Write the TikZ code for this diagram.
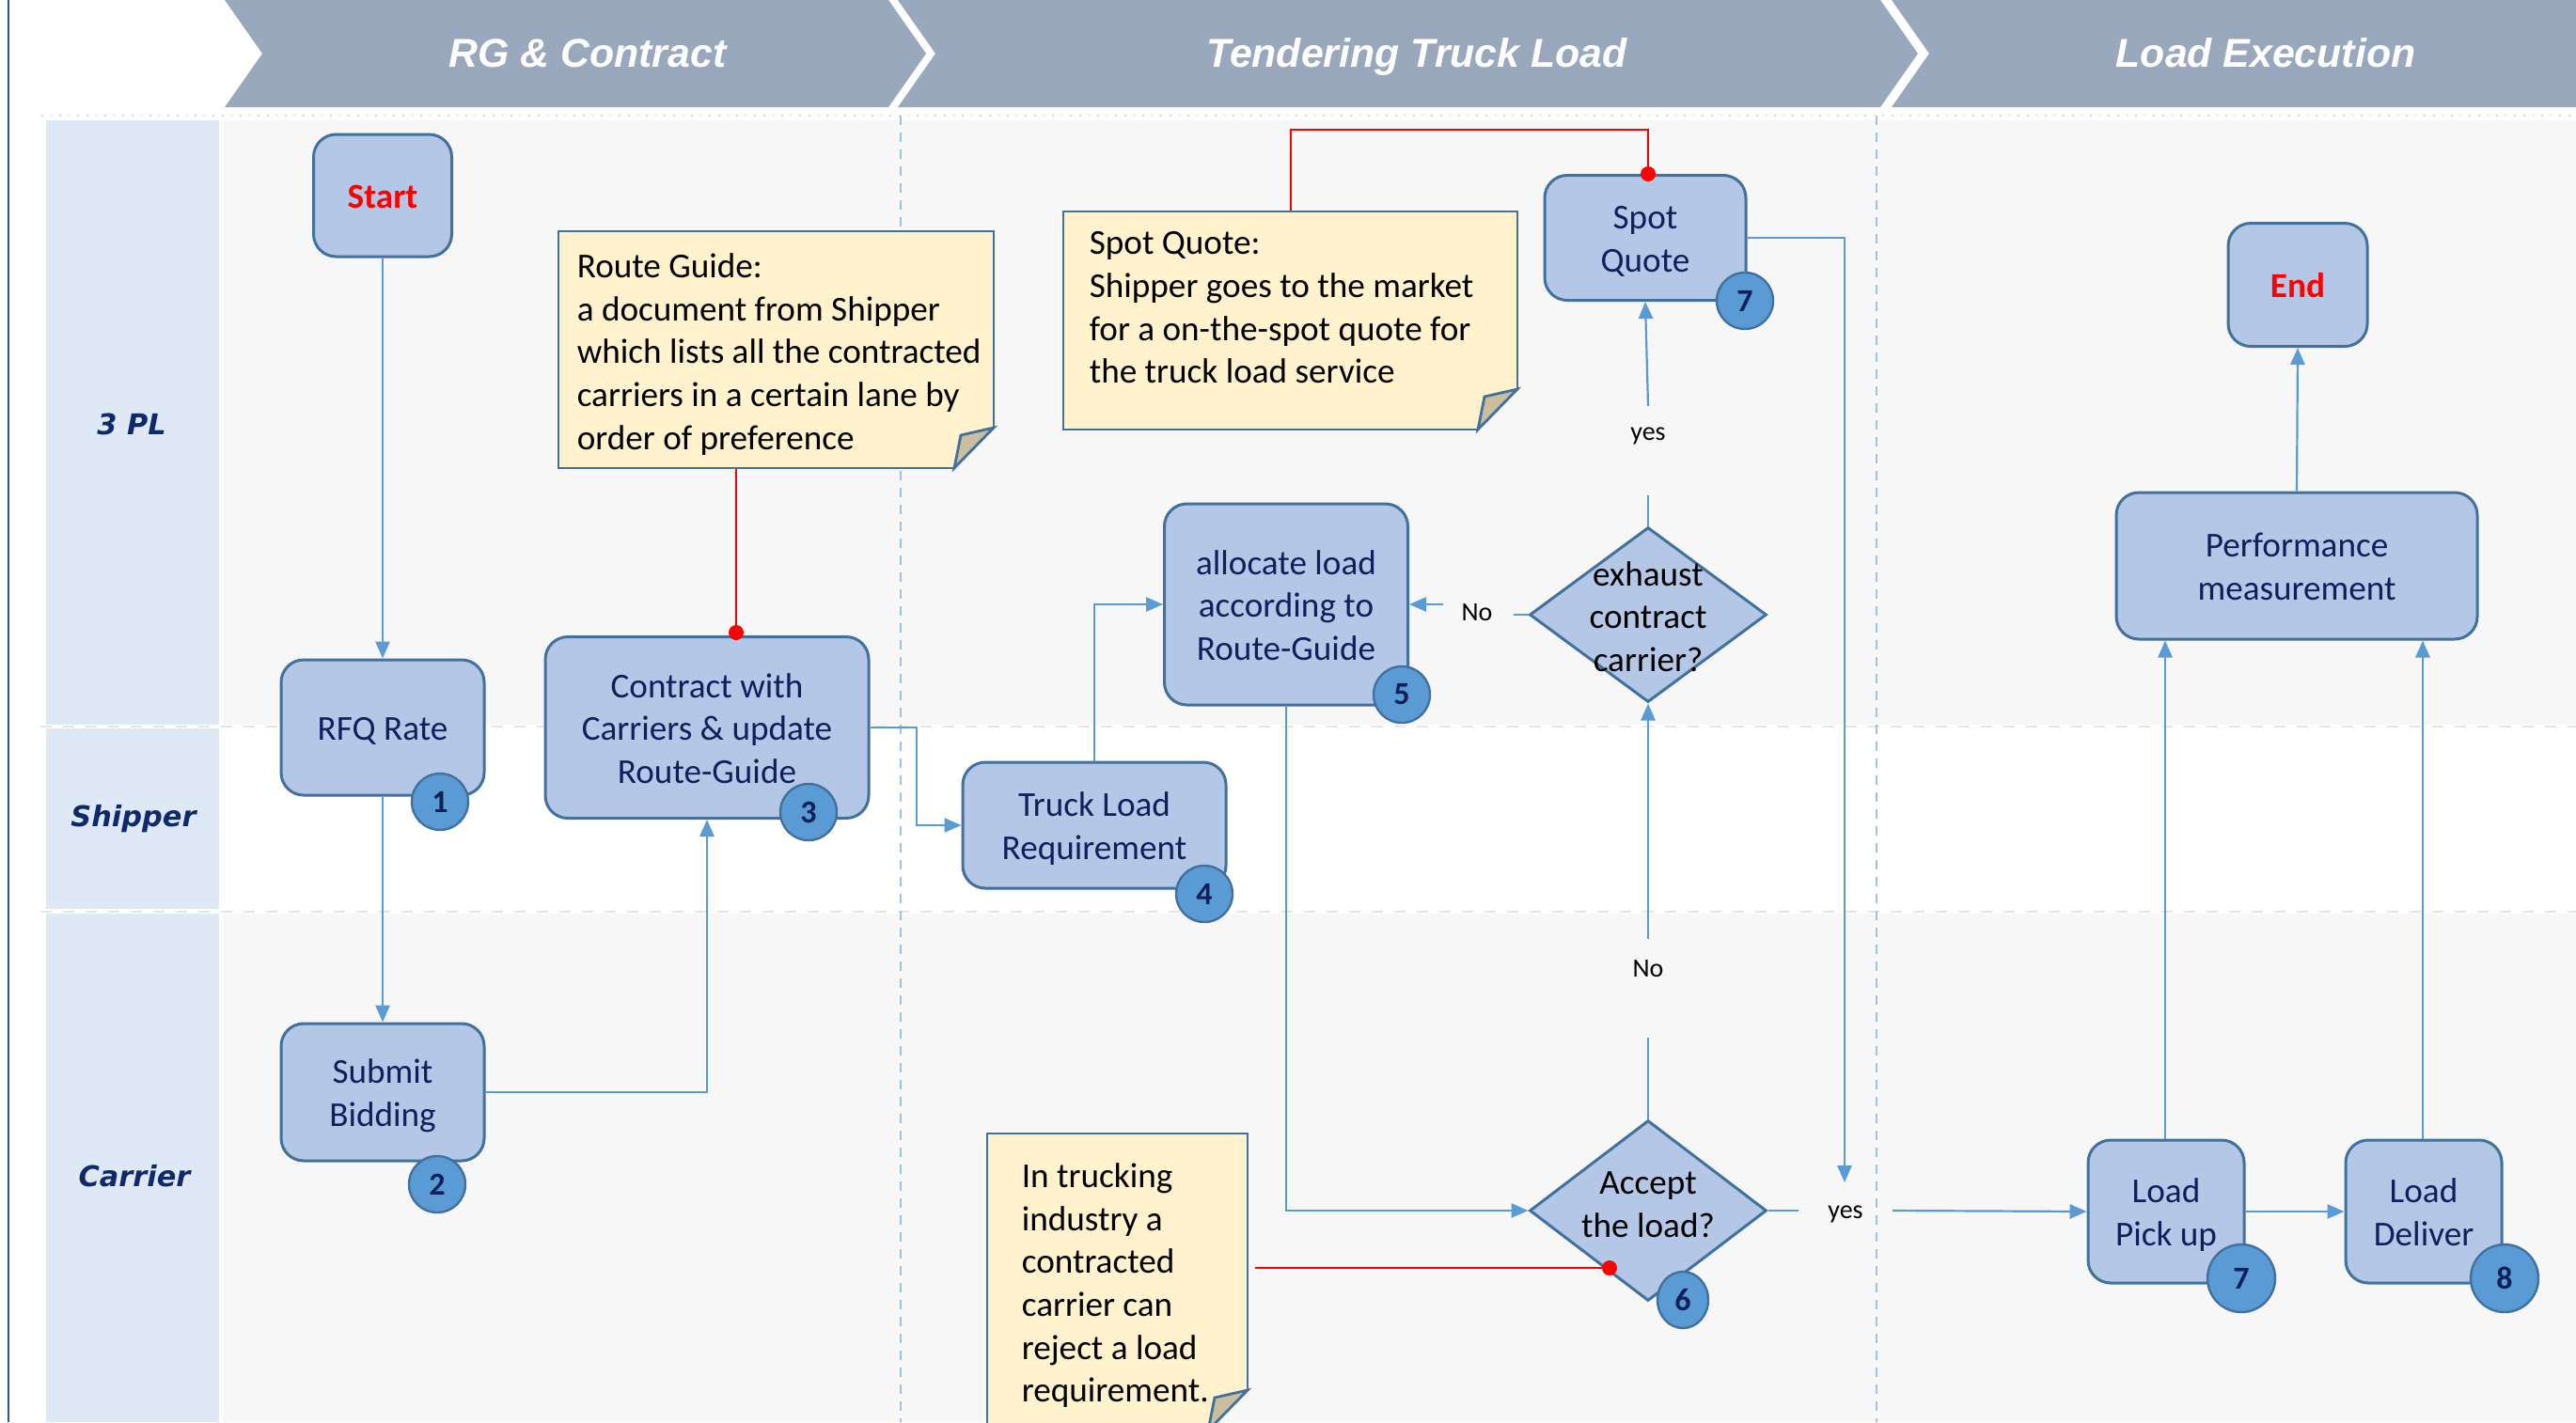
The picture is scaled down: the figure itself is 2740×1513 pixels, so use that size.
\documentclass[tikz,border=0pt]{standalone}
\usepackage{fontspec}
\setmainfont{Carlito}
\newfontfamily\hdrfont{Liberation Sans}
\newfontfamily\lanefont{DejaVu Sans}
\usetikzlibrary{shapes.geometric,arrows.meta,calc}
\definecolor{hdr}{HTML}{9AA8BE}
\definecolor{lanelab}{HTML}{DEE9F5}
\definecolor{lanebg}{HTML}{F7F7F7}
\definecolor{boxfill}{HTML}{B4C7E7}
\definecolor{boxline}{HTML}{41719C}
\definecolor{navy}{HTML}{10205A}
\definecolor{connc}{HTML}{5B9BD5}
\definecolor{badgefill}{HTML}{5B9BD5}
\definecolor{notefill}{HTML}{FFF2CC}
\definecolor{foldfill}{HTML}{CBBE9C}
\definecolor{phasec}{HTML}{9DC3E6}
\definecolor{leftblue}{HTML}{2F5597}
\definecolor{lanetxt}{HTML}{0F2A6B}
\newcommand\pxu{0.25pt}
\newcommand\boxfont{\fontsize{9.3}{11.4}\selectfont}
\newcommand\notefold[4]{%
  \fill[notefill] (#1,#2) -- (#3,#2) -- (#3,#4-43) -- (#3-42,#4) -- (#1,#4) -- cycle;
  \draw[boxline, line width=0.7pt, fill=foldfill] (#3,#4-43) -- (#3-35,#4-35) -- (#3-42,#4) -- cycle;
  \draw[boxline, line width=0.7pt] (#3-42,#4) -- (#1,#4) -- (#1,#2) -- (#3,#2) -- (#3,#4-43);
}
\begin{document}
\begin{tikzpicture}[x=0.25pt,y=-0.25pt,
  oneline/.style={text height=9.3pt, text depth=2.5pt},
  twoline/.style={text height=20.7pt, text depth=2.5pt},
  threeline/.style={text height=32.1pt, text depth=2.5pt},
  box/.style={draw=boxline, line width=0.75pt, fill=boxfill, rounded corners=6pt,
    text=navy, align=center, font=\boxfont, inner sep=0pt},
  dec/.style={diamond, draw=boxline, line width=0.75pt, fill=boxfill, inner sep=0pt},
  dtext/.style={align=center, font=\boxfont, text=black, inner sep=0pt},
  badge/.style={circle, draw=boxline, line width=0.6pt, fill=badgefill, minimum size=60*\pxu,
    inner sep=0pt, font=\bfseries\fontsize{8.5}{9}\selectfont, text=navy},
  flowline/.style={draw=connc, line width=0.55pt},
  flow/.style={flowline, -{Triangle[length=4.5pt,width=3.8pt]}},
  redl/.style={draw=red, line width=0.5pt},
  lbl/.style={font=\fontsize{7}{8}\selectfont, text=black, inner sep=1pt},
  hdrtext/.style={font=\hdrfont\bfseries\itshape\fontsize{10.7}{12}\selectfont, text=white, anchor=base, inner sep=0pt},
  lanetext/.style={font=\lanefont\bfseries\itshape\fontsize{7.6}{9}\selectfont, text=lanetxt},
  notetext/.style={align=left, font=\boxfont, text=black, inner sep=0pt, anchor=north west},
  notearea/.style={inner sep=0pt}
]
\useasboundingbox (0,0) rectangle (2740,1513);
\fill[white] (0,0) rectangle (2740,1513);
% lanes
\fill[lanebg] (237,128) rectangle (2740,771);
\fill[lanebg] (237,972) rectangle (2740,1513);
\fill[lanelab] (49,128) rectangle (233,771);
\fill[lanelab] (49,775) rectangle (233,967);
\fill[lanelab] (49,972) rectangle (233,1513);
\draw[black!10, dashed, line width=0.3pt] (43,773) -- (2740,773);
\draw[black!10, dashed, line width=0.3pt] (43,970) -- (2740,970);
\draw[black!15, dotted, line width=0.4pt] (44,123) -- (2740,123);
\draw[leftblue, line width=0.6pt] (9,0) -- (9,1513);
% phase separators
\draw[phasec, line width=0.5pt, dash pattern=on 2.5pt off 2pt] (958,123) -- (958,1513);
\draw[phasec, line width=0.5pt, dash pattern=on 2.5pt off 2pt] (1996,123) -- (1996,1513);
% header chevrons
\fill[hdr] (239,0) -- (945,0) -- (985,57) -- (945,114) -- (239,114) -- (279,57) -- cycle;
\fill[hdr] (955,0) -- (2000,0) -- (2040,57) -- (2000,114) -- (955,114) -- (995,57) -- cycle;
\fill[hdr] (2012,0) -- (2740,0) -- (2740,114) -- (2012,114) -- (2052,57) -- cycle;
\node[hdrtext] (h1) at (625,71) {RG \& Contract};
\node[hdrtext] (h2) at (1507,71) {Tendering Truck Load};
\node[hdrtext] (h3) at (2410,71) {Load Execution};
% lane labels
\node[lanetext] (l1) at (140,451) {3 PL};
\node[lanetext] (l2) at (142,871) {Shipper};
\node[lanetext] (l3) at (143,1251) {Carrier};
% notes
\notefold{594}{246}{1057}{498}
\node[notearea, minimum width=463*\pxu, minimum height=252*\pxu] (rgnote) at (825.5,372) {};
\node[notetext] (rgtext) at (613,269) {Route Guide:\\a document from Shipper\\which lists all the contracted\\carriers in a certain lane by\\order of preference};
\notefold{1131}{225}{1614}{457}
\node[notearea, minimum width=483*\pxu, minimum height=232*\pxu] (spnote) at (1372.5,341) {};
\node[notetext] (sptext) at (1158,246) {Spot Quote:\\Shipper goes to the market\\for a on-the-spot quote for\\the truck load service};
\notefold{1050}{1206}{1327}{1522}
\node[notearea, minimum width=277*\pxu, minimum height=316*\pxu] (trnote) at (1188.5,1364) {};
\node[notetext] (trtext) at (1086,1237) {In trucking\\industry a\\contracted\\carrier can\\reject a load\\requirement.};
% boxes
\node[box, oneline, minimum width=147*\pxu, minimum height=130*\pxu, font=\boxfont\bfseries, text=red] (start) at (407,208) {Start};
\node[box, oneline, minimum width=216*\pxu, minimum height=144*\pxu] (rfq) at (407,774) {RFQ Rate};
\node[box, twoline, minimum width=216*\pxu, minimum height=146*\pxu] (submit) at (407,1162) {Submit\\Bidding};
\node[box, threeline, minimum width=344*\pxu, minimum height=193*\pxu] (contract) at (752,774) {Contract with\\Carriers \& update\\Route-Guide};
\node[box, twoline, minimum width=280*\pxu, minimum height=134*\pxu] (truck) at (1164,878) {Truck Load\\Requirement};
\node[box, threeline, minimum width=259*\pxu, minimum height=214*\pxu] (alloc) at (1368,643) {allocate load\\according to\\Route-Guide};
\node[dec, minimum width=252*\pxu, minimum height=186*\pxu] (exh) at (1753,654) {};
\node[dtext, threeline] (exht) at (1753,655) {exhaust\\contract\\carrier?};
\node[box, twoline, minimum width=214*\pxu, minimum height=133*\pxu] (spot) at (1750,253) {Spot\\Quote};
\node[dec, minimum width=252*\pxu, minimum height=192*\pxu] (accept) at (1753,1288) {};
\node[dtext, twoline] (acct) at (1753,1280) {Accept\\the load?};
\node[box, oneline, minimum width=148*\pxu, minimum height=131*\pxu, font=\boxfont\bfseries, text=red] (endn) at (2444,303) {End};
\node[box, twoline, minimum width=384*\pxu, minimum height=156*\pxu] (perf) at (2443,602) {Performance\\measurement};
\node[box, twoline, minimum width=166*\pxu, minimum height=152*\pxu] (pick) at (2304,1289) {Load\\Pick up};
\node[box, twoline, minimum width=166*\pxu, minimum height=152*\pxu] (deliv) at (2578,1289) {Load\\Deliver};
% badges
\node[badge] (b1) at (468,853) {1};
\node[badge] (b2) at (465,1260) {2};
\node[badge] (b3) at (860,864) {3};
\node[badge] (b4) at (1281,951) {4};
\node[badge] (b5) at (1491,739) {5};
\node[badge, ellipse, minimum width=54*\pxu, minimum height=60*\pxu] (b6) at (1790,1383) {6};
\node[badge] (b7a) at (1856,320) {7};
\node[badge, minimum size=72*\pxu] (b7b) at (2384,1360) {7};
\node[badge, minimum size=72*\pxu] (b8) at (2664,1360) {8};
% red note links
\draw[redl] (rgnote.south -| 783,0) -- (contract.north -| 783,0);
\fill[red] (contract.north -| 783,0) ++(0,-3) circle[radius=2pt];
\draw[redl] (spnote.north -| 1373,0) -- (1373,138) -- (1753,138) -- (spot.north -| 1753,0);
\fill[red] (spot.north -| 1753,0) circle[radius=2pt];
\coordinate (accdot) at (1712,1349);
\draw[redl] (trnote.east |- accdot) ++(7,0) -- (accdot);
\fill[red] (accdot) circle[radius=2pt];
% labels on connectors
\node[lbl] (yes1) at (1753,464) {yes};
\node[lbl] (no1) at (1571,652) {No};
\node[lbl] (no2) at (1753,1031) {No};
\node[lbl] (yes2) at (1963,1292) {yes};
\coordinate (yes1a) at (1753,527);
\coordinate (yes1b) at (1753,432);
\coordinate (no1a) at (1610,654);
\coordinate (no1b) at (1535,643);
\coordinate (no2a) at (1753,1104);
\coordinate (no2b) at (1753,999);
\coordinate (yes2a) at (1913,1288);
\coordinate (yes2b) at (2013,1288);
\coordinate (yes2c) at (1962,1258);
% connectors
\draw[flow] (start) -- (rfq);
\draw[flow] (rfq) -- (submit);
\draw[flow] (submit.east) -| (contract.south);
\draw[flow] (contract.east) -- (975,774) |- (truck.west);
\draw[flow] (truck.north) |- (alloc.west);
\draw[flow] (alloc.south) |- (accept.west);
\draw[flowline] (accept.north) -- (no2a);
\draw[flow] (no2b) -- (exh.south);
\draw[flowline] (exh.west) -- (no1a);
\draw[flow] (no1b) -- (alloc.east);
\draw[flowline] (exh.north) -- (yes1a);
\draw[flow] (yes1b) -- (spot.south);
\draw[flow] (spot.east) -| (yes2c);
\draw[flowline] (accept.east) -- (yes2a);
\draw[flow] (yes2b) -- (pick.west);
\draw[flow] (pick.east) -- (deliv.west);
\draw[flow] (pick.north -| 2303,0) -- (perf.south -| 2303,0);
\draw[flow] (deliv.north -| 2577,0) -- (perf.south -| 2577,0);
\draw[flow] (perf.north) -- (endn.south);
\end{tikzpicture}
\end{document}
